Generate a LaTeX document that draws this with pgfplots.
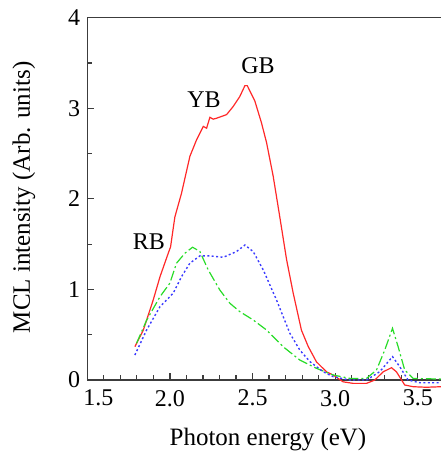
\documentclass[border=0pt]{standalone}
\usepackage{pgfplots}
\pgfplotsset{compat=1.18}
\usepackage{fontspec}
\setmainfont{Liberation Serif}
\usetikzlibrary{calc}
\definecolor{cred}{RGB}{255,40,40}
\definecolor{cgreen}{RGB}{40,220,40}
\definecolor{cblue}{RGB}{60,60,255}
\definecolor{axgray}{RGB}{60,60,60}
\begin{document}
\begin{tikzpicture}
\begin{axis}[
  name=ax,
  scale only axis,
  width=176.85pt, height=181.2pt,
  xmin=1.5, xmax=3.64, ymin=0, ymax=4,
  clip=false,
  axis x line*=bottom, axis y line*=left,
  axis line style={axgray, line width=0.7pt},
  xtick={1.5,2.0,2.5,3.0,3.5},
  xticklabels={\hspace*{11pt}1.5, 2.0, 2.5, 3.0, 3.5},
  ytick={0,1,2,3,4},
  yticklabels={0,1,2,3,4},
  minor x tick num=4,
  minor y tick num=1,
  tick align=inside,
  major tick length=3.5pt,
  minor tick length=2.5pt,
  tick style={axgray, line width=0.6pt},
  xticklabel style={font=\fontsize{12}{14}\selectfont, yshift=-1.5pt},
  yticklabel style={font=\fontsize{12}{14}\selectfont},
  xlabel={Photon energy (eV)},
  ylabel={MCL intensity (Arb. units)},
  every axis x label/.style={at={(axis description cs:0.511,-0.1656)}, anchor=center, font=\fontsize{12.5}{15}\selectfont},
  every axis y label/.style={at={(axis description cs:-0.179,0.504)}, anchor=center, rotate=90, font=\fontsize{12.5}{15}\selectfont},
]
\addplot[cred, line width=0.6pt] coordinates {
(1.788,0.368) (1.839,0.55) (1.899,0.884) (1.94,1.14) (1.99,1.40) (2.004,1.47)
(2.03,1.80) (2.07,2.06) (2.121,2.47) (2.161,2.65) (2.202,2.80) (2.222,2.78) (2.232,2.84)
(2.242,2.90) (2.262,2.88) (2.282,2.89) (2.343,2.93) (2.383,3.02) (2.423,3.13)
(2.454,3.25) (2.468,3.25) (2.514,3.08) (2.554,2.84) (2.585,2.62) (2.625,2.25)
(2.665,1.80) (2.706,1.33) (2.746,0.96) (2.796,0.55) (2.837,0.37) (2.887,0.20)
(2.948,0.09) (2.988,0.055) (3.048,-0.02) (3.109,-0.037) (3.19,-0.037) (3.24,0)
(3.29,0.09) (3.341,0.136) (3.371,0.09) (3.421,-0.055) (3.472,-0.074) (3.552,-0.08) (3.64,-0.074)
};
\addplot[cgreen, line width=0.6pt, dash pattern=on 5pt off 1.5pt on 1pt off 1.5pt] coordinates {
(1.798,0.405) (1.859,0.66) (1.94,0.92) (2.0,1.07) (2.04,1.29) (2.091,1.40)
(2.137,1.466) (2.181,1.42) (2.232,1.215) (2.302,0.994) (2.363,0.847) (2.423,0.755)
(2.504,0.663) (2.585,0.552) (2.685,0.368) (2.786,0.221) (2.887,0.129) (2.988,0.055)
(3.089,0.018) (3.19,0.018) (3.25,0.11) (3.3,0.33) (3.347,0.571) (3.381,0.368)
(3.421,0.11) (3.472,0.018) (3.64,0.01)
};
\addplot[cblue, line width=0.7pt, dash pattern=on 1pt off 1.2pt] coordinates {
(1.788,0.276) (1.859,0.552) (1.94,0.81) (2.02,0.958) (2.07,1.14) (2.121,1.29)
(2.181,1.37) (2.242,1.37) (2.323,1.355) (2.403,1.418) (2.454,1.49) (2.504,1.418)
(2.565,1.215) (2.645,0.884) (2.726,0.516) (2.786,0.331) (2.847,0.203) (2.927,0.092)
(2.988,0.037) (3.089,0) (3.19,0) (3.27,0.092) (3.347,0.258) (3.391,0.147)
(3.441,0) (3.512,-0.03) (3.64,-0.03)
};
\node[font=\fontsize{12}{14}\selectfont] at (axis cs:2.533,3.47) {GB};
\node[font=\fontsize{12}{14}\selectfont] at (axis cs:2.206,3.10) {YB};
\node[font=\fontsize{12}{14}\selectfont] at (axis cs:1.873,1.525) {RB};
\draw[axgray, line width=0.7pt] (rel axis cs:0,1) -- (rel axis cs:1,1);
\end{axis}
\pgfresetboundingbox
\path ($(ax.south west)+(-43.65pt,-36pt)$) rectangle ($(ax.north east)+(0pt,8.85pt)$);
\end{tikzpicture}
\end{document}
